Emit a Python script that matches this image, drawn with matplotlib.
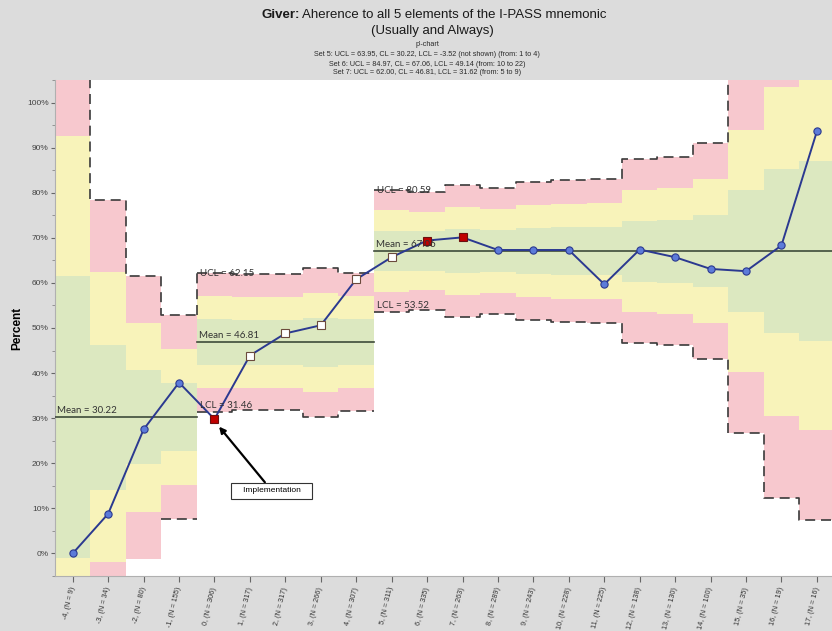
import numpy as np
import matplotlib
matplotlib.use("Agg")
import matplotlib.pyplot as plt
from matplotlib.ticker import FixedLocator, MultipleLocator

# ---- data -------------------------------------------------------------
periods = list(range(-4, 18))
n_sizes = [9, 34, 80, 155, 306, 317, 317, 266, 307, 311, 335, 263,
           289, 243, 228, 225, 138, 130, 100, 35, 19, 16]
pct = [0.0, 8.8, 27.5, 37.9, 29.8, 43.9, 48.8, 50.6, 60.8, 65.7, 69.4,
       70.1, 67.3, 67.3, 67.3, 59.7, 67.4, 65.7, 63.1, 62.6, 68.3, 93.6]
# point style: c = in control, o = open square, r = signal
point_kind = ["c", "c", "c", "c", "r", "o", "o", "o", "o", "o", "r",
              "r", "c", "c", "c", "c", "c", "c", "c", "c", "c", "c"]
# set membership of each period (p'-chart phases)
set_index = [0, 0, 0, 0, 1, 1, 1, 1, 1, 2, 2, 2, 2, 2, 2, 2, 2, 2, 2, 2, 2, 2]
set_cl = [30.22, 46.81, 67.06]
set_sigma_z = [2.04, 1.7925, 1.6922]          # Laney sigma-z per phase
mean_labels = ["Mean = 30.22", "Mean = 46.81", "Mean = 67.06"]
limit_labels = [("UCL = 62.15", "LCL = 31.46"), ("UCL = 80.59", "LCL = 53.52")]
subtitle_lines = [
    "p'-chart",
    "Set 5: UCL = 63.95, CL = 30.22, LCL = -3.52 (not shown) (from: 1 to 4)",
    "Set 6: UCL = 84.97, CL = 67.06, LCL = 49.14 (from: 10 to 22)",
    "Set 7: UCL = 62.00, CL = 46.81, LCL = 31.62 (from: 5 to 9)",
]
tick_labels = [f"{p}, (N = {n})" for p, n in zip(periods, n_sizes)]

# ---- control limits (Laney p') ---------------------------------------
x = np.array(periods, dtype=float)
cl = np.array([set_cl[s] for s in set_index])
sz = np.array([set_sigma_z[s] for s in set_index])
pfrac = cl / 100.0
half = 3 * sz * np.sqrt(pfrac * (1 - pfrac) / np.array(n_sizes)) * 100
ucl = cl + half
lcl = cl - half

RED, YELLOW, GREEN = "#F7C8CE", "#F8F3BA", "#DCE8C0"
BG = "#DCDCDC"

fig = plt.figure(figsize=(8.32, 6.31), dpi=100, facecolor=BG)
ax = fig.add_axes([55 / 832, 55 / 631, 779.6 / 832, 496 / 631])
ax.set_facecolor("white")
ax.set_xlim(-4.5, 17.5)
ax.set_ylim(-5, 105)

# colour zones: green within 1 sigma, yellow 1-2 sigma, red 2-3 sigma
for xi, c, h in zip(x, cl, half):
    s = h / 3
    bands = [(c + 2 * s, c + 3 * s, RED), (c + s, c + 2 * s, YELLOW),
             (c - s, c + s, GREEN), (c - 2 * s, c - s, YELLOW),
             (c - 3 * s, c - 2 * s, RED)]
    for lo, hi, col in bands:
        ax.add_patch(plt.Rectangle((xi - 0.5, lo), 1.0, hi - lo, facecolor=col,
                                   edgecolor="none", zorder=1))

# mean lines and limit step lines per phase
dash = dict(color="#3a3a3a", lw=1.2, dashes=(6, 3.5), zorder=3)
set_font = dict(family="Lato", fontsize=7, color="#333333", zorder=6)
for k in range(3):
    idx = [i for i, s in enumerate(set_index) if s == k]
    x0, x1 = x[idx[0]] - 0.5, x[idx[-1]] + 0.5
    ax.plot([x0, x1], [set_cl[k], set_cl[k]], color="#3E4B3A", lw=1.2, zorder=3)
    ax.text(x0 + 0.05, set_cl[k] + 0.5, mean_labels[k], ha="left", va="bottom", **set_font)
    xs = np.append(x[idx] - 0.5, x1)
    u = np.append(ucl[idx], ucl[idx[-1]])
    l = np.append(lcl[idx], lcl[idx[-1]])
    l = np.where(l < 0, np.nan, l)
    ax.step(xs, u, where="post", **dash)
    ax.step(xs, l, where="post", **dash)
    if k >= 1:
        i0 = idx[0]
        ax.text(x0 + 0.08, ucl[i0], limit_labels[k - 1][0], ha="left", va="center", **set_font)
        ax.text(x0 + 0.08, lcl[i0] + 0.4, limit_labels[k - 1][1], ha="left", va="bottom", **set_font)

# connect phase 5 upper limit to phase 7 upper limit
j = set_index.index(1)
ax.plot([x[j] - 0.5, x[j] - 0.5], [ucl[j - 1], ucl[j]], **dash)

# data series
ax.plot(x, pct, color="#2B3990", lw=1.4, zorder=4)
style = {"c": dict(marker="o", ms=5.2, mfc="#5C7BD9", mec="#2B3990", mew=0.8),
         "o": dict(marker="s", ms=5.2, mfc="white", mec="#6B4A3C", mew=0.8),
         "r": dict(marker="s", ms=5.2, mfc="#C00000", mec="#6B1010", mew=0.8)}
for kind in style:
    sel = [i for i, k in enumerate(point_kind) if k == kind]
    ax.plot(x[sel], np.array(pct)[sel], ls="none", zorder=5, **style[kind])

# implementation callout
ax.annotate("   Implementation   ", xy=(0.08, 28.6), xytext=(1.62, 13.9),
            ha="center", va="center", fontsize=6, family="Liberation Sans",
            bbox=dict(boxstyle="square,pad=0.55", fc="white", ec="#333333", lw=0.8),
            arrowprops=dict(arrowstyle="-|>", color="black", lw=1.6, mutation_scale=9,
                            shrinkA=0, shrinkB=2), zorder=7)

# axes styling
for side in ("top", "right"):
    ax.spines[side].set_visible(False)
ax.spines["left"].set_color("#B0B0B0")
ax.spines["bottom"].set_color("#B0B0B0")
ax.spines["left"].set_linewidth(0.8)
ax.spines["bottom"].set_linewidth(0.8)
ax.yaxis.set_major_locator(FixedLocator(range(0, 101, 10)))
ax.yaxis.set_minor_locator(MultipleLocator(5))
ax.set_yticklabels([f"{v}%" for v in range(0, 101, 10)], fontsize=6,
                   family="Liberation Sans", color="#444444")
ax.tick_params(axis="y", which="major", length=3, color="#666666", pad=1.5)
ax.tick_params(axis="y", which="minor", length=2, color="#888888")
ax.set_xticks(x)
ax.set_xticklabels(tick_labels, rotation=77, rotation_mode="anchor", ha="right",
                   va="center", fontsize=5.2, family="Liberation Sans", color="#333333")
ax.tick_params(axis="x", length=4, color="#666666", pad=4)
ax.set_ylabel("Percent", fontsize=8.5, weight="bold", family="Liberation Sans")
ax.yaxis.set_label_coords(-0.041, 0.5)

# title: bold lead-in followed by regular text
fig.canvas.draw()
r = fig.canvas.get_renderer()
ty = 1 - 15 / 631
tb = fig.text(0, ty, "Giver:", fontsize=9.5, weight="bold", family="Liberation Sans",
              va="center", color="#1a1a1a")
tn = fig.text(0, ty, "Aherence to all 5 elements of the I-PASS mnemonic", fontsize=9.5,
              family="Liberation Sans", va="center", color="#1a1a1a")
wb = tb.get_window_extent(r).width
wn = tn.get_window_extent(r).width
gap = 3
left = 434 - (wb + gap + wn) / 2
tb.set_x(left / 832)
tn.set_x((left + wb + gap) / 832)
fig.text(432 / 832, 1 - 31 / 631, "(Usually and Always)", fontsize=9.5,
         family="Liberation Sans", ha="center", va="center", color="#1a1a1a")
for line, yy in zip(subtitle_lines, [45, 55, 64, 73]):
    fig.text(427 / 832, 1 - yy / 631, line, fontsize=5.2, family="Liberation Sans",
             ha="center", va="center", color="#2a2a2a")

fig.savefig("out.png", dpi=100, facecolor=BG)
